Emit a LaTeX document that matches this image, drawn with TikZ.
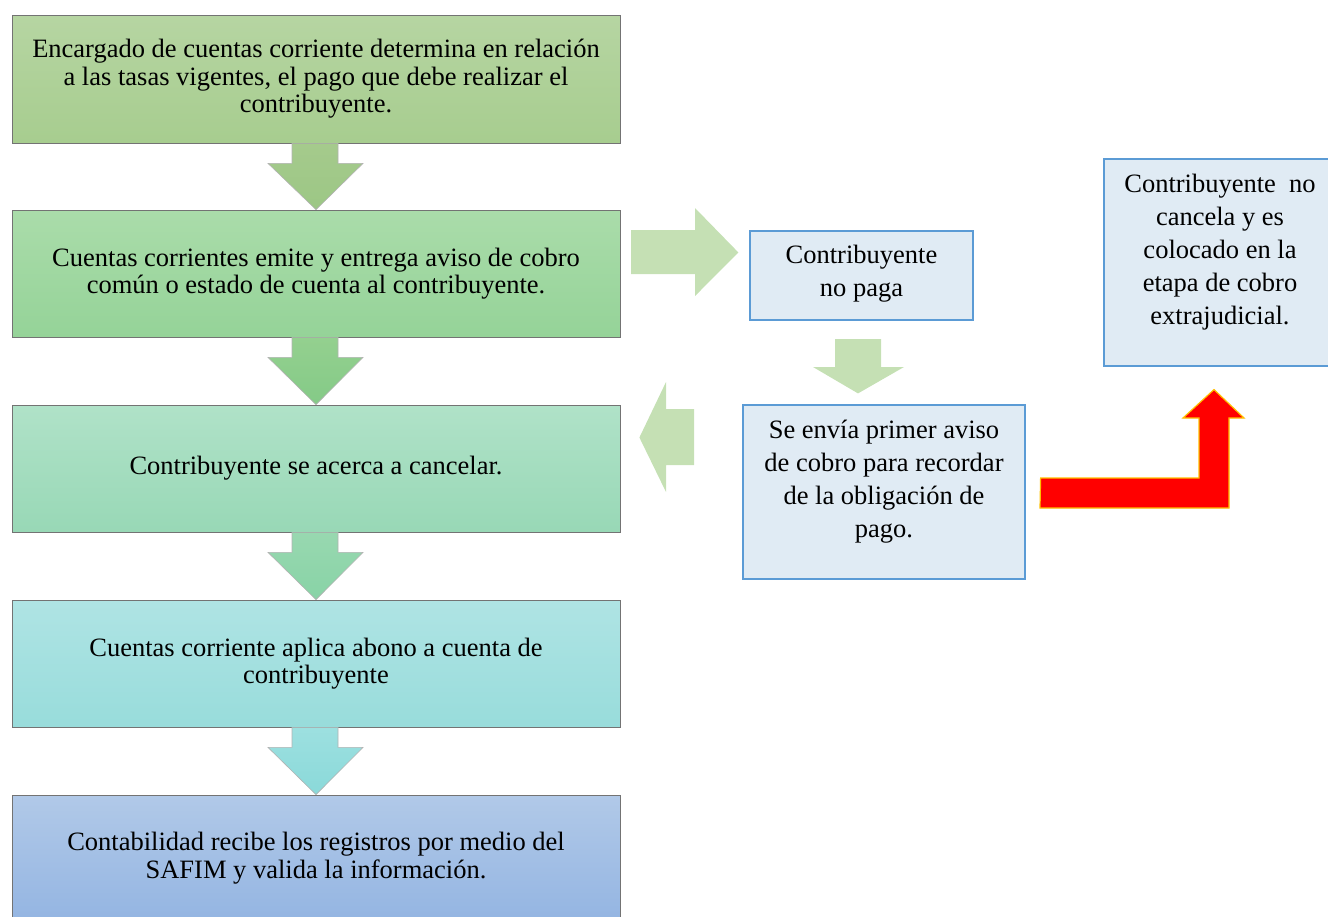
\documentclass[tikz,border=0pt]{standalone}
\usepackage{fontspec}
\setmainfont{Liberation Serif}
\usetikzlibrary{calc}
\begin{document}
\begin{tikzpicture}[x=1pt,y=-1pt,
  lbox/.style={draw=black!55, line width=0.8pt, minimum width=608pt, inner sep=0pt, align=center,
     font=\fontsize{26.5}{27.5}\selectfont},
  rbox/.style={draw=rboxline, fill=rboxfill, line width=1.2pt, inner sep=0pt},
  rtext/.style={font=\fontsize{26.5}{33}\selectfont, align=center, inner sep=0pt},
  darrow/.style={draw=black!30, line width=0.6pt},
  garrow/.style={fill=lgreen, draw=none},
  redarrow/.style={fill=red, draw={rgb,255:red,255;green,192;blue,0}, line width=1.2pt},
]
\definecolor{lgreen}{HTML}{C5E0B4}
\definecolor{rboxfill}{HTML}{E0EBF4}
\definecolor{rboxline}{HTML}{5B9BD5}
\useasboundingbox (0,0) rectangle (1328,916);
\clip (0,0) rectangle (1328,916);

% left column boxes
\node[lbox, minimum height=128pt, top color={rgb,255:red,182;green,213;blue,162}, bottom color={rgb,255:red,167;green,205;blue,143}] (b1) at (316,79)
  {Encargado de cuentas corriente determina en relación\\a las tasas vigentes, el pago que debe realizar el\\contribuyente.};
\node[lbox, minimum height=127pt, top color={rgb,255:red,170;green,220;blue,170}, bottom color={rgb,255:red,149;green,211;blue,152}] (b2) at (316,273.5)
  {Cuentas corrientes emite y entrega aviso de cobro\\común o estado de cuenta al contribuyente.};
\node[lbox, minimum height=127pt, top color={rgb,255:red,176;green,226;blue,200}, bottom color={rgb,255:red,152;green,216;blue,182}] (b3) at (316,468.5)
  {Contribuyente se acerca a cancelar.};
\node[lbox, minimum height=127pt, top color={rgb,255:red,175;green,228;blue,228}, bottom color={rgb,255:red,152;green,220;blue,219}] (b4) at (316,663.5)
  {Cuentas corriente aplica abono a cuenta de\\contribuyente};
\node[lbox, minimum height=126pt, top color={rgb,255:red,177;green,201;blue,232}, bottom color={rgb,255:red,148;green,181;blue,226}] (b5) at (316,858)
  {Contabilidad recibe los registros por medio del\\SAFIM y valida la información.};

% down block arrows between left boxes
\foreach \a/\b/\ra/\ga/\ba/\rb/\gb/\bb in {b1/b2/165/202/140/156/199/133, b2/b3/148/208/143/132/202/135, b3/b4/152/216/176/136/211/166, b4/b5/157/224/224/138/217/217}{
  \shade[darrow, top color={rgb,255:red,\ra;green,\ga;blue,\ba}, bottom color={rgb,255:red,\rb;green,\gb;blue,\bb}]
    ($(\a.south)+(-24,0)$) -- ($(\a.south)+(22,0)$) -- ($(\a.south)+(22,20)$) -- ($(\a.south)+(47,20)$)
    -- (\b.north) -- ($(\a.south)+(-48,20)$) -- ($(\a.south)+(-24,20)$) -- cycle;
}

% right side boxes
\node[rbox, minimum width=223pt, minimum height=89pt] (np) at (861.5,275.5) {};
\node[rtext] (npt) at (861.5,273.5) {Contribuyente\\no paga};
\node[rbox, minimum width=282pt, minimum height=174pt] (av) at (884,492) {};
\node[rtext] (avt) at (884,482) {Se envía primer aviso\\de cobro para recordar\\de la obligación de\\pago.};
\node[rbox, minimum width=240pt, minimum height=207pt] (ex) at (1224,262.5) {};
\node[rtext] (ext) at (1220,252) {Contribuyente \ no\\cancela y es\\colocado en la\\etapa de cobro\\extrajudicial.};

% light green block arrows
\fill[garrow] (631,230) -- (695,230) -- (695,208) -- ($(np.west)+(-11,-23)$) -- (695,296) -- (695,274) -- (631,274) -- cycle;
\fill[garrow] (835,339) -- (881,339) -- (881,367) -- (904,367) -- ($(av.north)+(-26,-11)$) -- (813,367) -- (835,367) -- cycle;
\fill[garrow] (694,409) -- (694,465) -- (666,465) -- (666,492) -- ($(b3.east)+(19,-31)$) -- (666,382) -- (666,409) -- cycle;

% red bent arrow
\filldraw[redarrow]
  ($(av.east)+(15,-14)$) -- (1199,478) -- (1199,418) -- (1183,418) -- ($(ex.south)+(-10,23)$) -- (1244,418) -- (1229,418) -- (1229,508) -- (1040,508) -- cycle;
\end{tikzpicture}
\end{document}
